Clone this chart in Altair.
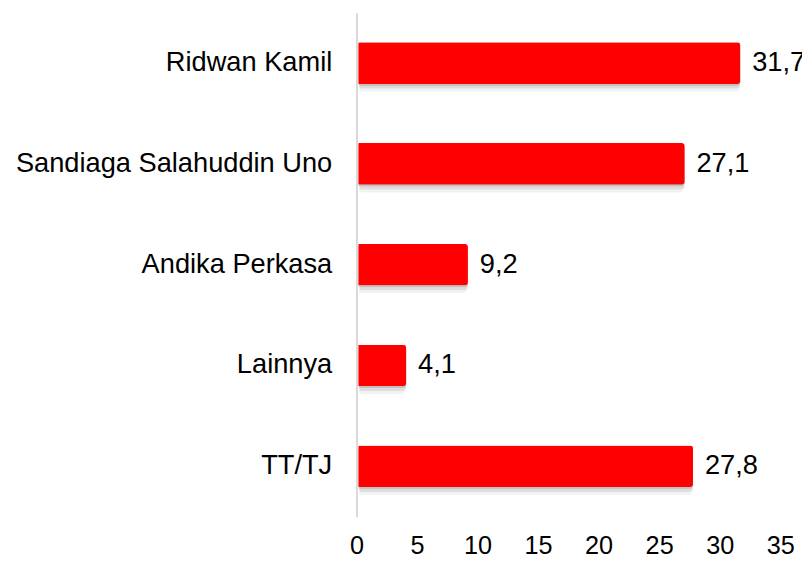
import altair as alt
import pandas as pd

categories = ["Ridwan Kamil", "Sandiaga Salahuddin Uno", "Andika Perkasa", "Lainnya", "TT/TJ"]
values = [31.7, 27.1, 9.2, 4.1, 27.8]
labels = [f"{v:.1f}".replace(".", ",") for v in values]
x_ticks = [0, 5, 10, 15, 20, 25, 30, 35]

df = pd.DataFrame({"cat": categories, "val": values, "lab": labels})

FONT = "Liberation Sans"
FS = 27.5

xenc = alt.X("val:Q", scale=alt.Scale(domain=[0, 35], nice=False, zero=True),
             axis=alt.Axis(values=x_ticks, title=None, domain=False, ticks=False, grid=False,
                           labelFont=FONT, labelFontSize=25.5, labelColor="#000000",
                           labelPadding=17, labelFlush=False))
yenc = alt.Y("cat:N", sort=None,
             scale=alt.Scale(paddingInner=0, paddingOuter=0),
             axis=alt.Axis(title=None, ticks=False, grid=False, domain=True,
                           domainColor="#d9d9d9", domainWidth=2,
                           labelFont=FONT, labelFontSize=FS, labelColor="#000000",
                           labelPadding=25, labelLimit=400))

base = alt.Chart(df)

shadows = [
    base.mark_bar(size=42, color="#707070", opacity=0.25, cornerRadius=4, xOffset=2, yOffset=2).encode(x=xenc, y=yenc),
    base.mark_bar(size=44, color="#808080", opacity=0.18, cornerRadius=5, xOffset=3, yOffset=4).encode(x=xenc, y=yenc),
    base.mark_bar(size=46, color="#909090", opacity=0.12, cornerRadius=6, xOffset=3, yOffset=6).encode(x=xenc, y=yenc),
]

bars = base.mark_bar(size=42, color="#ff0000", cornerRadius=3, xOffset=2).encode(x=xenc, y=yenc)

text = base.mark_text(align="left", baseline="middle", dx=12, font=FONT, fontSize=FS,
                      color="#000000").encode(x=xenc, y=yenc, text="lab:N")

chart = alt.layer(*shadows, bars, text).properties(
    width=428, height=509,
    background="white",
    autosize=alt.AutoSizeParams(type="none"),
    padding={"left": 352, "top": 2, "right": 22, "bottom": 42},
).configure_view(strokeWidth=0, stroke="transparent")

chart.save("out.html", embed_options={"renderer": "svg", "actions": False})
